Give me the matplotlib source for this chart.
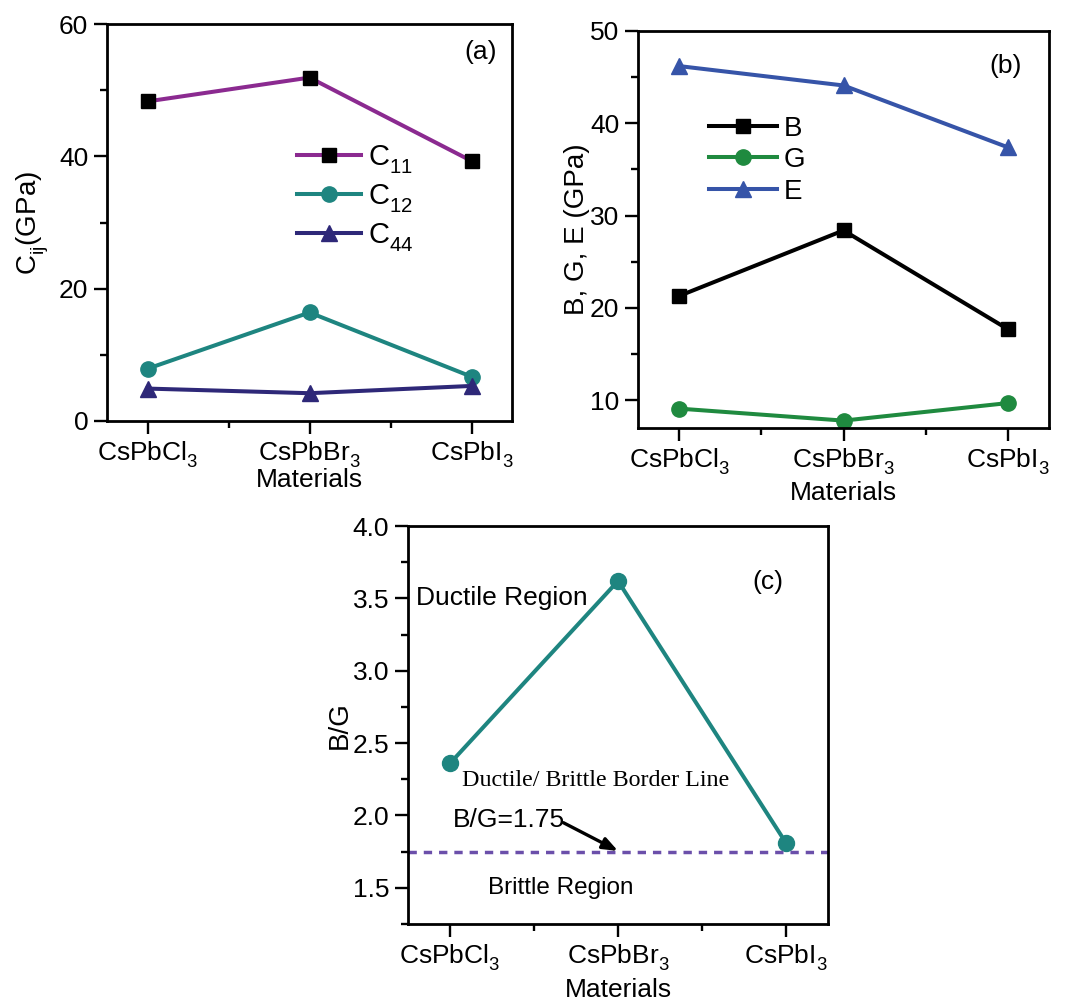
import matplotlib
matplotlib.use("Agg")
import matplotlib.pyplot as plt
from matplotlib.ticker import MultipleLocator, FixedLocator, FormatStrFormatter

plt.rcParams['font.family'] = ['Liberation Sans', 'DejaVu Sans']
plt.rcParams['mathtext.fontset'] = 'custom'
plt.rcParams['mathtext.rm'] = 'Liberation Sans'
plt.rcParams['mathtext.it'] = 'Liberation Sans'
plt.rcParams['mathtext.bf'] = 'Liberation Sans:bold'
try:
    import matplotlib._mathtext as _mt
    _mt.FontConstantsBase.sub1 = 0.55
    _mt.FontConstantsBase.sub2 = 0.7
except Exception:
    pass

# ---------------- data ----------------
materials = [r'CsPbCl$_3$', r'CsPbBr$_3$', r'CsPbI$_3$']
C11 = [48.3, 51.9, 39.3]
C12 = [7.9, 16.4, 6.7]
C44 = [4.9, 4.2, 5.3]
B_mod = [21.3, 28.4, 17.7]
G_mod = [9.1, 7.8, 9.7]
E_mod = [46.2, 44.1, 37.4]
BG_ratio = [2.36, 3.62, 1.81]
BG_border = 1.75

x = list(range(len(materials)))

W, H = 1075, 1000
fig = plt.figure(figsize=(W / 100, H / 100), dpi=100)


def add_ax(left, top, right, bottom):
    return fig.add_axes([left / W, 1 - bottom / H, (right - left) / W, (bottom - top) / H])


FS = 19


def style(ax, ymaj, ymin_loc, xlab_y):
    for s in ax.spines.values():
        s.set_linewidth(2.0)
    ax.set_xlim(-0.25, 2.25)
    ax.xaxis.set_major_locator(FixedLocator(x))
    ax.xaxis.set_minor_locator(FixedLocator([0.5, 1.5]))
    ax.set_xticklabels(materials)
    ax.yaxis.set_major_locator(MultipleLocator(ymaj))
    ax.yaxis.set_minor_locator(MultipleLocator(ymin_loc))
    ax.tick_params(which='major', direction='out', length=9.5, width=1.7,
                   labelsize=FS, top=False, right=False, pad=4)
    ax.tick_params(which='minor', direction='out', length=5, width=1.7,
                   top=False, right=False)
    ax.set_xlabel('Materials', fontsize=FS)
    ax.xaxis.set_label_coords(0.5, xlab_y)
    ax.xaxis.label.set_va('center')


lw = 2.9
ms = 10

# ---------------- (a) ----------------
axa = add_ax(107, 24, 512, 421)
axa.plot(x, C11, color='#8B2A90', lw=lw, marker='s', ms=ms, mfc='black', mec='black', label=r'C$_{11}$')
axa.plot(x, C12, color='#1E8580', lw=lw, marker='o', ms=ms + 1, mfc='#1E8580', mec='#1E8580', label=r'C$_{12}$')
axa.plot(x, C44, color='#2E2878', lw=lw, marker='^', ms=ms + 1, mfc='#2E2878', mec='#2E2878', label=r'C$_{44}$')
axa.set_ylim(0, 60)
style(axa, 20, 10, -0.149)
axa.set_ylabel(r'C$_{\mathrm{ij}}$(GPa)', fontsize=FS + 1, labelpad=6)
axa.text(2.056, 55.8, '(a)', fontsize=FS, ha='center', va='center')
axa.legend(loc='upper left', bbox_to_anchor=(0.468, 0.70), frameon=False,
           fontsize=FS + 2, handlelength=2.2, handletextpad=0.25,
           labelspacing=0.22, borderpad=0, borderaxespad=0)

# ---------------- (b) ----------------
axb = add_ax(638, 31, 1049, 428)
axb.plot(x, B_mod, color='black', lw=lw, marker='s', ms=ms, mfc='black', mec='black', label='B')
axb.plot(x, G_mod, color='#1F8A3F', lw=lw, marker='o', ms=ms + 1, mfc='#1F8A3F', mec='#1F8A3F', label='G')
axb.plot(x, E_mod, color='#3654A8', lw=lw, marker='^', ms=ms + 1, mfc='#3654A8', mec='#3654A8', label='E')
axb.set_ylim(7, 50)
style(axb, 10, 5, -0.164)
axb.set_ylabel('B, G, E (GPa)', fontsize=FS + 1, labelpad=0)
axb.text(1.986, 46.2, '(b)', fontsize=FS, ha='center', va='center')
axb.legend(loc='upper left', bbox_to_anchor=(0.172, 0.787), frameon=False,
           fontsize=FS + 1, handlelength=2.45, handletextpad=0.25,
           labelspacing=0.2, borderpad=0, borderaxespad=0)

# ---------------- (c) ----------------
axc = add_ax(408, 526, 828, 924)
axc.plot(x, BG_ratio, color='#1E8580', lw=lw, marker='o', ms=ms + 1.5, mfc='#1E8580', mec='#1E8580')
axc.axhline(BG_border, color='#6B4FAA', lw=2.5, dashes=(2.4, 2.0))
axc.set_ylim(1.25, 4.0)
style(axc, 0.5, 0.25, -0.166)
axc.yaxis.set_major_formatter(FormatStrFormatter('%.1f'))
axc.set_ylabel('B/G', fontsize=FS + 1, labelpad=0)
axc.text(1.89, 3.61, '(c)', fontsize=FS, ha='center', va='center')
axc.text(-0.205, 3.50, 'Ductile Region', fontsize=FS, ha='left', va='center')
axc.text(0.074, 2.24, 'Ductile/ Brittle Border Line', fontsize=17.3,
         family=['Liberation Serif', 'DejaVu Serif'], ha='left', va='center')
axc.text(0.02, 1.97, 'B/G=1.75', fontsize=FS, ha='left', va='center')
axc.text(0.224, 1.50, 'Brittle Region', fontsize=17.5, ha='left', va='center')
axc.annotate('', xy=(1.0, BG_border + 0.005), xytext=(0.675, 1.95),
             arrowprops=dict(arrowstyle='-|>,head_length=0.9,head_width=0.35',
                             color='black', lw=2.4, shrinkA=0, shrinkB=0))

fig.savefig('out.png', dpi=100)
